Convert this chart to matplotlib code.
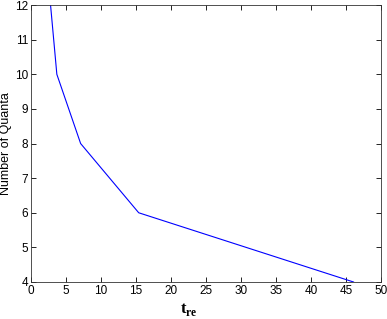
import matplotlib
matplotlib.use("Agg")
import matplotlib.pyplot as plt

t_re = [2.8, 3.7, 7.1, 15.4, 46.1]
quanta = [12, 10, 8, 6, 4]
x_ticks = [0, 5, 10, 15, 20, 25, 30, 35, 40, 45, 50]
y_ticks = [4, 5, 6, 7, 8, 9, 10, 11, 12]

plt.rcParams['font.family'] = ['Liberation Sans', 'DejaVu Sans']
plt.rcParams['mathtext.fontset'] = 'custom'
plt.rcParams['mathtext.rm'] = 'Liberation Serif'
plt.rcParams['mathtext.bf'] = 'Liberation Serif:bold'
fig = plt.figure(figsize=(3.87, 3.19), dpi=100)
ax = fig.add_axes([0.080, 0.116, 0.904, 0.868])
ax.plot(t_re, quanta, color='#0000ff', lw=0.8)
ax.set_xlim(0, 50)
ax.set_ylim(4, 12)
ax.set_xticks(x_ticks)
ax.set_yticks(y_ticks)
ax.tick_params(direction='in', length=3.5, labelsize=8.5, top=True, right=True, pad=2, width=0.6)
for s in ax.spines.values():
    s.set_linewidth(0.6)
    s.set_color('#333333')
ax.set_ylabel('Number of Quanta', fontsize=9)
ax.yaxis.set_label_coords(-0.055, 0.5)
ax.set_xlabel(r'$\mathbf{t}_{\mathbf{re}}$', fontsize=12)
ax.xaxis.set_label_coords(0.45, -0.068)
fig.savefig('out.png', dpi=100)
